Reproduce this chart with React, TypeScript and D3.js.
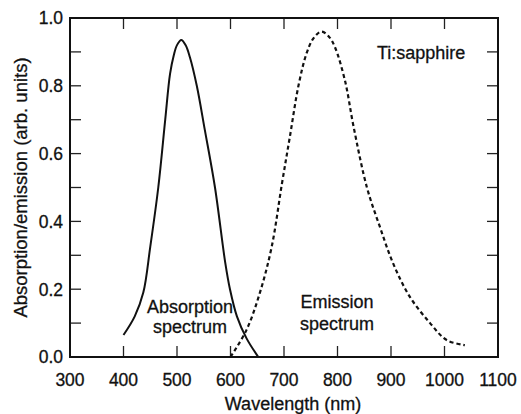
import React from 'react';
import * as d3 from 'd3';

// wavelength (nm) / value pairs
const absorptionNm = [400, 421, 437, 450, 465, 478, 487, 494, 500, 508, 516, 524, 537, 552, 571, 590, 599, 612, 630, 652];
const absorptionVal = [0.065, 0.12, 0.19, 0.325, 0.5, 0.7, 0.835, 0.89, 0.92, 0.935, 0.92, 0.885, 0.8, 0.67, 0.5, 0.28, 0.2, 0.12, 0.055, 0.0];

const emissionNm = [600, 630, 655, 677, 696, 711, 727, 742, 755, 770, 784, 795, 814, 830, 855, 879, 904, 935, 973, 1004, 1038];
const emissionVal = [0.0, 0.08, 0.19, 0.325, 0.51, 0.65, 0.8, 0.895, 0.94, 0.96, 0.945, 0.915, 0.815, 0.68, 0.5, 0.385, 0.276, 0.178, 0.1, 0.05, 0.035];

const xTicks = [300, 400, 500, 600, 700, 800, 900, 1000, 1100];
const yTicks = [0, 0.1, 0.2, 0.3, 0.4, 0.5, 0.6, 0.7, 0.8, 0.9, 1.0];
const yLabels = [0, 0.2, 0.4, 0.6, 0.8, 1.0];

const W = 521;
const H = 414;
const margin = { top: 18, right: 23, bottom: 57, left: 70 };
const font = 'Liberation Sans, Arial, Helvetica, sans-serif';

// text props shared by every label (slight stroke to mimic the printed weight)
const txt = { fontFamily: font, fill: '#111', stroke: '#111', strokeWidth: 0.3 };

export default function App() {
  const x = d3.scaleLinear().domain([300, 1100]).range([margin.left, W - margin.right]);
  const y = d3.scaleLinear().domain([0, 1]).range([H - margin.bottom, margin.top]);

  const line = d3
    .line<[number, number]>()
    .x(d => x(d[0]))
    .y(d => y(d[1]))
    .curve(d3.curveCatmullRom.alpha(0.5));

  const absData = absorptionNm.map((n, i) => [n, absorptionVal[i]] as [number, number]);
  const emData = emissionNm.map((n, i) => [n, emissionVal[i]] as [number, number]);

  const x0 = x(300);
  const x1 = x(1100);
  const y0 = y(0);
  const y1 = y(1);
  const tick = 11;

  return (
    <svg width={W} height={H} style={{ position: 'absolute', left: 0, top: 0, background: '#fff' }}>
      {/* inward ticks on all four sides */}
      {xTicks.slice(1, -1).map(t => (
        <g key={'xt' + t} stroke="#222" strokeWidth={1.3}>
          <line x1={x(t)} x2={x(t)} y1={y0} y2={y0 - tick} />
          <line x1={x(t)} x2={x(t)} y1={y1} y2={y1 + tick} />
        </g>
      ))}
      {yTicks.slice(1, -1).map(t => (
        <g key={'yt' + t} stroke="#222" strokeWidth={1.3}>
          <line x1={x0} x2={x0 + tick} y1={y(t)} y2={y(t)} />
          <line x1={x1} x2={x1 - tick} y1={y(t)} y2={y(t)} />
        </g>
      ))}
      <rect x={x0} y={y1} width={x1 - x0} height={y0 - y1} fill="none" stroke="#111" strokeWidth={2} />

      {/* tick labels */}
      {xTicks.map(t => (
        <text key={'xl' + t} x={x(t)} y={386} textAnchor="middle" fontSize={17.5} {...txt}>
          {t}
        </text>
      ))}
      {yLabels.map(t => (
        <text key={'yl' + t} x={63} y={y(t)} dy="0.36em" textAnchor="end" fontSize={17.5} {...txt}>
          {t.toFixed(1)}
        </text>
      ))}

      {/* axis titles */}
      <text x={293} y={410} textAnchor="middle" fontSize={18} {...txt}>
        Wavelength (nm)
      </text>
      <text transform={`translate(27,${(y0 + y1) / 2}) rotate(-90)`} textAnchor="middle" fontSize={18.5} {...txt}>
        Absorption/emission (arb. units)
      </text>

      {/* curves */}
      <path d={line(absData) || ''} fill="none" stroke="#111" strokeWidth={2} />
      <path d={line(emData) || ''} fill="none" stroke="#111" strokeWidth={2.2} strokeDasharray="4 3" />

      {/* annotations */}
      <text x={377} y={59} fontSize={18} {...txt}>Ti:sapphire</text>
      <text x={190} y={313} textAnchor="middle" fontSize={18} {...txt}>Absorption</text>
      <text x={190} y={333} textAnchor="middle" fontSize={18} {...txt}>spectrum</text>
      <text x={337} y={308} textAnchor="middle" fontSize={18} {...txt}>Emission</text>
      <text x={337} y={330} textAnchor="middle" fontSize={18} {...txt}>spectrum</text>
    </svg>
  );
}
